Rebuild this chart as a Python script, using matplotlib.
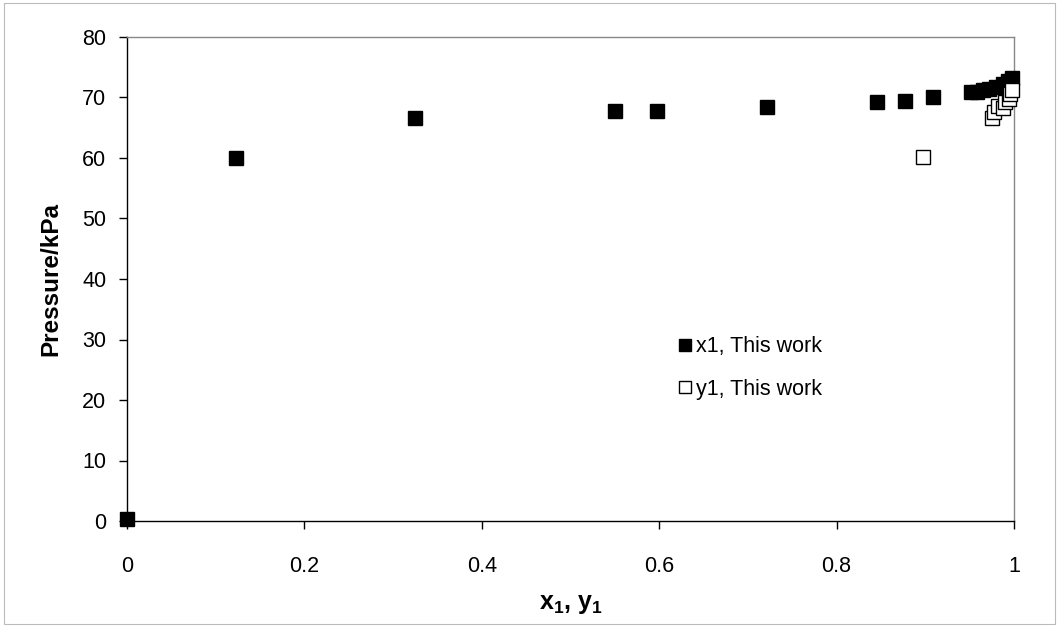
import matplotlib
matplotlib.use("Agg")
import matplotlib.pyplot as plt

plt.rcParams['font.family'] = ['Liberation Sans', 'DejaVu Sans']
plt.rcParams['mathtext.fontset'] = 'custom'
plt.rcParams['mathtext.rm'] = 'Liberation Sans'
plt.rcParams['mathtext.bf'] = 'Liberation Sans:bold'

# x1 (liquid) data
x1 = [0.0, 0.123, 0.325, 0.550, 0.598, 0.722, 0.846, 0.877, 0.909,
      0.951, 0.958, 0.965, 0.972, 0.980, 0.988, 0.993, 0.998]
p_x1 = [0.3, 60.0, 66.6, 67.8, 67.8, 68.4, 69.2, 69.5, 70.0,
        70.9, 70.9, 71.2, 71.4, 71.8, 72.3, 72.8, 73.2]

# y1 (vapour) data
y1 = [0.897, 0.975, 0.978, 0.982, 0.988, 0.990, 0.994, 0.996, 0.998]
p_y1 = [60.1, 66.6, 67.6, 68.6, 68.2, 69.2, 69.8, 70.5, 71.2]

xticks = [0, 0.2, 0.4, 0.6, 0.8, 1]
xtick_labels = ["0", "0.2", "0.4", "0.6", "0.8", "1"]
yticks = [0, 10, 20, 30, 40, 50, 60, 70, 80]

fig = plt.figure(figsize=(10.59, 6.27), dpi=100)
ax = fig.add_axes([127/1059, 1 - 521/627, (1014-127)/1059, (521-37)/627])

ax.plot(x1, p_x1, linestyle='none', marker='s', markersize=9.5,
        markerfacecolor='black', markeredgecolor='black', label='x1, This work',
        clip_on=False, zorder=3)
ax.plot(y1, p_y1, linestyle='none', marker='s', markersize=9.5,
        markerfacecolor='white', markeredgecolor='black', markeredgewidth=1.0,
        label='y1, This work', clip_on=False, zorder=3)

ax.set_xlim(0, 1)
ax.set_ylim(0, 80)
ax.set_xticks(xticks)
ax.set_xticklabels(xtick_labels)
ax.set_yticks(yticks)
ax.tick_params(axis='both', direction='out', length=6, width=1, labelsize=15.5)
ax.tick_params(axis='y', pad=9)
ax.tick_params(axis='x', pad=19)

for s in ['top', 'right']:
    ax.spines[s].set_color('#888888')
    ax.spines[s].set_linestyle((0, (1, 1)))
    ax.spines[s].set_linewidth(1)
for s in ['left', 'bottom']:
    ax.spines[s].set_color('black')
    ax.spines[s].set_linewidth(1)

ax.set_ylabel('Pressure/kPa', fontsize=17.5, fontweight='bold', labelpad=14)
ax.set_xlabel(r'$\mathbf{x_1}$, $\mathbf{y_1}$', fontsize=18, fontweight='bold', labelpad=11)

ax.legend(loc='upper left', bbox_to_anchor=(0.6, 0.422), frameon=False,
          fontsize=15.5, handlelength=0.6, handletextpad=0.2, labelspacing=1.0,
          markerscale=0.85)

fig.patches.append(matplotlib.patches.Rectangle((0.004, 0.004), 0.992, 0.992,
                   transform=fig.transFigure, fill=False, edgecolor='#bbbbbb', linewidth=0.8))

fig.savefig('out.png', dpi=100)
